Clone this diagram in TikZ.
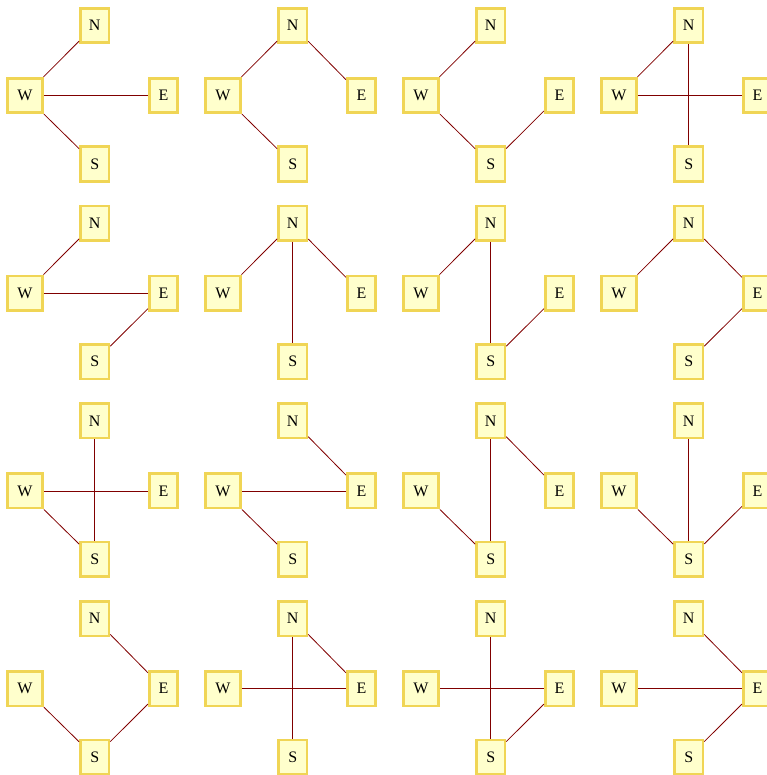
\documentclass[tikz,border=0pt]{standalone}
\usepackage{fontspec}
\setmainfont{Liberation Serif}
\definecolor{boxfill}{HTML}{FFFFCC}
\definecolor{boxline}{HTML}{F0D555}
\definecolor{edgecol}{HTML}{800000}
\begin{document}
\begin{tikzpicture}[x=1pt,y=-1pt,
  vbox/.style={draw=boxline, fill=boxfill, line width=2.6pt, minimum width=28.5pt, minimum height=34.5pt, inner sep=0pt, font=\fontsize{16}{18}\selectfont},
  wbox/.style={vbox, minimum width=35.5pt},
  link/.style={draw=edgecol, line width=0.8pt}]
\useasboundingbox (0,0) rectangle (766,775);
\foreach \r/\c/\edges in {
  0/0/{W/N,W/E,W/S}, 0/1/{N/W,N/E,W/S}, 0/2/{W/N,W/S,S/E}, 0/3/{N/W,W/E,N/S},
  1/0/{W/N,W/E,E/S}, 1/1/{N/W,N/S,N/E}, 1/2/{N/W,N/S,S/E}, 1/3/{N/W,N/E,E/S},
  2/0/{W/E,N/S,W/S}, 2/1/{N/E,W/E,W/S}, 2/2/{N/S,N/E,W/S}, 2/3/{N/S,W/S,S/E},
  3/0/{N/E,W/S,S/E}, 3/1/{N/S,N/E,W/E}, 3/2/{N/S,W/E,S/E}, 3/3/{N/E,W/E,E/S}} {
  \pgfmathsetmacro{\ox}{198*\c}
  \pgfmathsetmacro{\oy}{197.7*\r}
  \node[vbox] (N\r\c) at (\ox+94.7,\oy+25.5) {N};
  \node[wbox] (W\r\c) at (\ox+25,\oy+95.5) {W};
  \node[vbox] (E\r\c) at (\ox+163.5,\oy+95.5) {E};
  \node[vbox] (S\r\c) at (\ox+94.7,\oy+164) {S};
  \foreach \a/\b in \edges {
    \draw[link] (\a\r\c) -- (\b\r\c);
  }
}
\end{tikzpicture}
\end{document}
